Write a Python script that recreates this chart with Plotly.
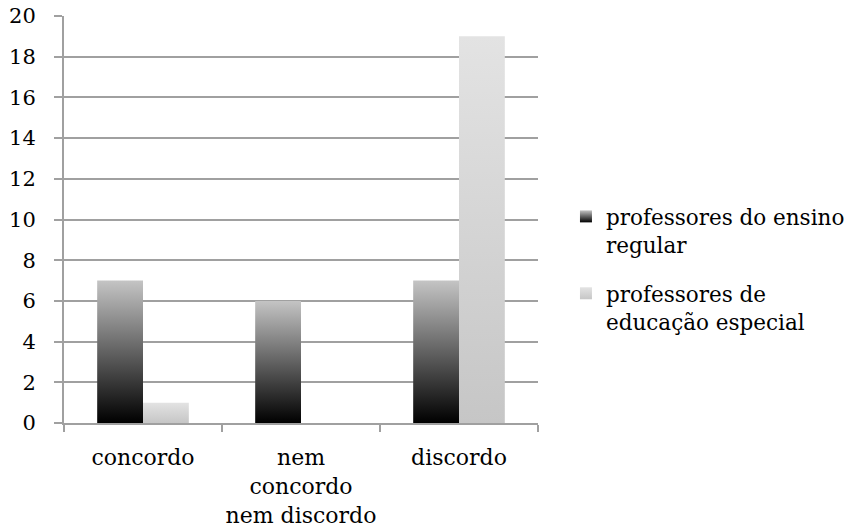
import plotly.graph_objects as go

categories = ["concordo", "nem<br>concordo<br>nem discordo", "discordo"]
series_names = ["professores do ensino<br>regular", "professores de<br>educação especial"]
regular = [7, 6, 7]
especial = [1, 0, 19]

FONT = "DejaVu Serif"
BAR_W = 0.29
styles = [
    dict(offset=-BAR_W, scale=[[0, "#000000"], [1, "#c4c4c4"]],
         top="#c4c4c4", bottom="#000000", mid="#555555"),
    dict(offset=0.0, scale=[[0, "#c6c6c6"], [1, "#e3e3e3"]],
         top="#e3e3e3", bottom="#c6c6c6", mid="#d6d6d6"),
]

fig = go.Figure()
for s_idx, (name, vals) in enumerate(zip(series_names, [regular, especial])):
    st = styles[s_idx]
    for i, v in enumerate(vals):
        if v <= 0:
            continue
        x0 = i + st["offset"]
        x1 = x0 + BAR_W
        fig.add_trace(go.Scatter(
            x=[x0, x1, x1, x0, x0], y=[0, 0, v, v, 0],
            mode="lines", fill="toself", line=dict(width=0),
            fillgradient=dict(type="vertical", colorscale=st["scale"], start=0, stop=v),
            fillcolor=st["mid"],
            name=name, legendgroup=name, showlegend=False,
            hoverinfo="text", text=f"{categories[i].replace('<br>', ' ')}: {v}",
        ))
    # legend entry
    fig.add_trace(go.Scatter(
        x=[None], y=[None], mode="markers",
        marker=dict(symbol="square", size=15, color=st["top"],
                    gradient=dict(type="vertical", color=st["bottom"])),
        name=name, legendgroup=name, showlegend=True,
    ))

fig.update_layout(
    width=857, height=532,
    margin=dict(l=64, r=319, t=16, b=109, autoexpand=False),
    plot_bgcolor="white", paper_bgcolor="white",
    font=dict(family=FONT, size=22, color="#000000"),
    legend=dict(x=1.059, y=0.558, xanchor="left", yanchor="top", valign="top",
                font=dict(family=FONT, size=21.5), tracegroupgap=18,
                itemsizing="constant", bgcolor="rgba(0,0,0,0)"),
    showlegend=True,
)
fig.update_xaxes(
    range=[-0.5, 2.5], tickmode="array", tickvals=[0, 1, 2], ticktext=categories,
    ticks="", showline=True, linecolor="#a0a0a0", linewidth=2,
    showgrid=False, zeroline=False, automargin=False, ticklabelstandoff=14,
    minor=dict(tickmode="array", tickvals=[-0.5, 0.5, 1.5, 2.5], ticks="outside",
               ticklen=7, tickcolor="#a0a0a0", tickwidth=2, showgrid=False),
    tickfont=dict(family=FONT, size=22),
)
fig.update_yaxes(
    range=[0, 20], dtick=2, tick0=0, ticks="outside", ticklen=8,
    tickcolor="#a0a0a0", tickwidth=2, showline=True, linecolor="#a0a0a0", linewidth=2,
    showgrid=True, gridcolor="#a0a0a0", gridwidth=2, zeroline=False,
    automargin=False, ticklabelstandoff=14,
    tickfont=dict(family=FONT, size=21),
)

fig.write_html("out.html")
